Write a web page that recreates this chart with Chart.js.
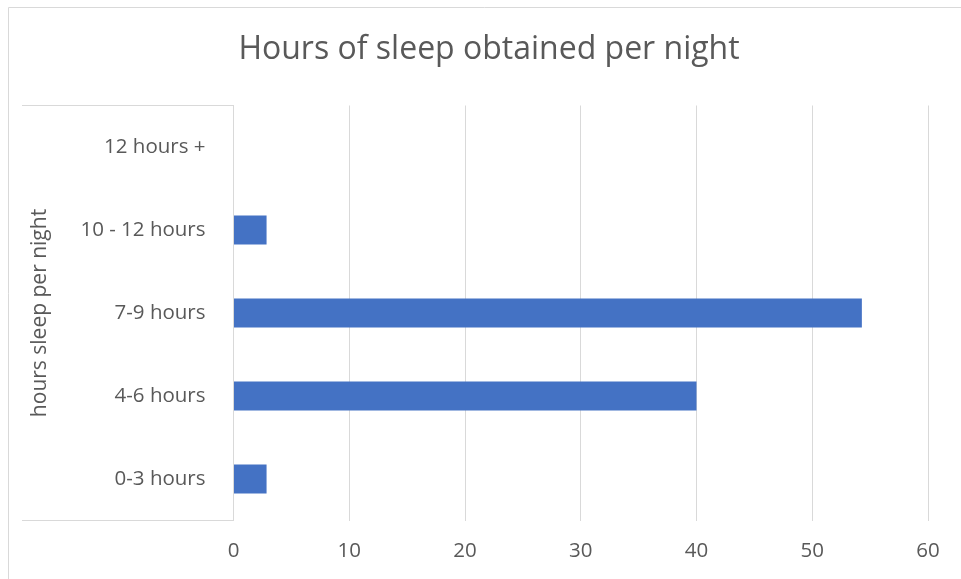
<!DOCTYPE html>
<html>
<head>
<meta charset="utf-8">
<script src="https://cdn.jsdelivr.net/npm/chart.js@4/dist/chart.umd.min.js"></script>
<style>
  html, body { margin: 0; padding: 0; background: #ffffff; }
  #wrap { width: 961px; height: 579px; }
</style>
</head>
<body>
<div id="wrap"><canvas id="sleep" width="961" height="579"></canvas></div>
<script>
// Survey answers, shown as a percentage of respondents
const categories = ['12 hours +', '10 - 12 hours', '7-9 hours', '4-6 hours', '0-3 hours'];
const percentRespondents = [0, 2.857, 54.286, 40, 2.857];
const xTicks = [0, 10, 20, 30, 40, 50, 60];

const chartTitle = 'Hours of sleep obtained per night';
const yAxisTitle = 'hours sleep per night';

const FONT = '"Open Sans", Lato, sans-serif';
const TEXT = '#595959';
const LINE = '#d9d9d9';

// Frame lines: outer chart border and the box around the category labels
const framePlugin = {
  id: 'frame',
  beforeDraw(chart) {
    const { ctx, chartArea } = chart;
    ctx.save();
    ctx.strokeStyle = LINE;
    ctx.lineWidth = 1;
    ctx.beginPath();
    ctx.moveTo(8.5, chart.height);
    ctx.lineTo(8.5, 7.5);
    ctx.lineTo(chart.width, 7.5);
    ctx.stroke();
    ctx.beginPath();
    ctx.moveTo(22, chartArea.top);
    ctx.lineTo(chartArea.left, chartArea.top);
    ctx.moveTo(22, chartArea.bottom);
    ctx.lineTo(chartArea.left, chartArea.bottom);
    ctx.stroke();
    ctx.restore();
  },
  afterLayout(chart) {
    // centre the title over the whole framed chart rather than the padded box
    const t = chart.titleBlock;
    if (t) { t.left += 22.5; }
  }
};

new Chart(document.getElementById('sleep'), {
  type: 'bar',
  data: {
    labels: categories,
    datasets: [{
      data: percentRespondents,
      backgroundColor: '#4472c4',
      borderWidth: 0,
      barPercentage: 0.35,
      categoryPercentage: 1
    }]
  },
  options: {
    indexAxis: 'y',
    responsive: false,
    devicePixelRatio: 1,
    animation: false,
    layout: { padding: { left: 27.5, right: 33, top: 12, bottom: 0 } },
    plugins: {
      legend: { display: false },
      tooltip: { enabled: false },
      title: {
        display: true,
        text: chartTitle,
        color: TEXT,
        font: { family: FONT, size: 32, weight: 'normal' },
        padding: { top: 19, bottom: 36.1 }
      }
    },
    scales: {
      x: {
        min: 0,
        max: 60,
        afterBuildTicks(scale) { scale.ticks = xTicks.map(v => ({ value: v })); },
        afterFit(scale) { scale.height = 58.5; },
        grid: { color: LINE, lineWidth: 1, drawTicks: false },
        border: { display: false },
        ticks: { color: TEXT, padding: 18, font: { family: FONT, size: 20.5 } }
      },
      y: {
        afterFit(scale) { scale.width = 206; },
        grid: { display: false, drawTicks: false },
        border: { display: true, color: LINE },
        title: {
          display: true,
          text: yAxisTitle,
          color: TEXT,
          padding: { top: 0, bottom: 0 },
          font: { family: FONT, size: 21, weight: 'normal' }
        },
        ticks: { color: TEXT, padding: 28, font: { family: FONT, size: 20.5 } }
      }
    }
  },
  plugins: [framePlugin]
});
</script>
</body>
</html>
